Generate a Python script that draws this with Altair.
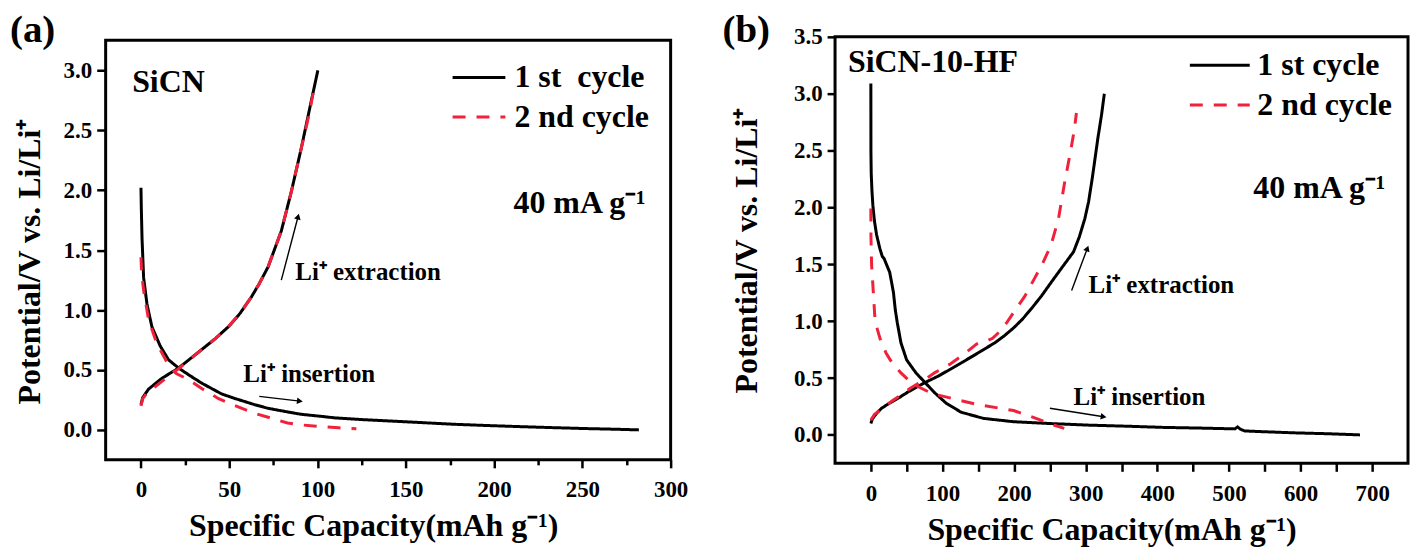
import math
import altair as alt
import pandas as pd

FONT = "Liberation Serif"
RED = "#F2213B"

# ---------------- panel (a): SiCN ----------------
a_labels = ["1 st\u00a0 cycle", "2 nd cycle"]
a1_dis_x = [0, 0.2, 0.6, 1.5, 3.4, 6.2, 10.9, 15.6, 21.3, 28, 34.4, 45.7, 53.2, 64.5, 72, 83.3, 90.8,
            102, 110, 125, 140, 160, 177, 195, 215, 235, 252, 270, 282]
a1_dis_y = [2.02, 1.85, 1.6, 1.27, 1.05, 0.86, 0.70, 0.585, 0.516, 0.45, 0.39, 0.30, 0.262, 0.21, 0.18,
            0.149, 0.13, 0.113, 0.10, 0.086, 0.075, 0.06, 0.047, 0.037, 0.027, 0.018, 0.011, 0.005, 0.0]
a1_chg_x = [0, 1, 4.3, 11.8, 21.3, 34.4, 42, 49.5, 56, 62.6, 67, 72, 79.5, 85.2, 90.8, 96.4, 100.2]
a1_chg_y = [0.21, 0.27, 0.34, 0.43, 0.516, 0.67, 0.76, 0.86, 0.97, 1.11, 1.22, 1.36, 1.66, 1.99, 2.35, 2.74, 3.0]
a2_dis_x = [0, 0.4, 1.5, 4.3, 9, 15.6, 20, 26.9, 35, 44, 52, 63, 72, 83, 92, 102, 112, 122]
a2_dis_y = [1.44, 1.3, 1.165, 0.92, 0.72, 0.54, 0.47, 0.42, 0.34, 0.26, 0.21, 0.145, 0.105, 0.058, 0.04,
            0.027, 0.017, 0.01]
a2_chg_x = [0, 1, 4, 8, 17.5, 21.3, 34.4, 42, 49.5, 56, 62.6, 67, 72, 79.5, 85.2, 90.8, 95.5, 97.6]
a2_chg_y = [0.2, 0.26, 0.32, 0.36, 0.47, 0.51, 0.67, 0.76, 0.86, 0.97, 1.11, 1.22, 1.36, 1.66, 1.99, 2.35,
            2.65, 2.82]
a_big_text = ["SiCN", "40 mA g\u207b\u00b9"]
a_big_x = [-5, 211]
a_big_y = [2.9, 1.89]
a_small_text = ["Li\u207a extraction", "Li\u207a insertion"]
a_small_x = [87.4, 58]
a_small_y = [1.32, 0.47]
a_arrow_x = [79.5, 67]
a_arrow_y = [1.25, 0.28]
a_arrow_x2 = [89, 90]
a_arrow_y2 = [1.78, 0.24]
a_leg_x = [176.5, 176.5]
a_leg_x2 = [206.4, 206.4]
a_leg_y = [2.94, 2.61]
a_leg_tx = [211.5, 211.5]
a_xticks = [0, 25, 50, 75, 100, 125, 150, 175, 200, 225, 250, 275, 300]
a_yticks = [0, 0.25, 0.5, 0.75, 1.0, 1.25, 1.5, 1.75, 2.0, 2.25, 2.5, 2.75, 3.0]

# ---------------- panel (b): SiCN-10-HF ----------------
b_labels = ["1 st cycle", "2 nd cycle"]
b1_dis_x = [0, 0.1, 0.5, 1.5, 2.8, 5, 8, 12.5, 15.9, 18.5, 23.7, 26.3, 29, 31.6, 34.1, 36.8, 42, 49.9, 63,
            78.7, 89.2, 104.9, 125.8, 157.4, 199.2, 250, 304, 360, 408.7, 460, 508, 512, 516, 522, 540, 592,
            640, 683]
b1_dis_y = [3.09, 2.49, 2.3, 2.15, 2.02, 1.88, 1.76, 1.64, 1.57, 1.55, 1.47, 1.43, 1.34, 1.25, 1.10, 0.99,
            0.81, 0.66, 0.545, 0.44, 0.37, 0.28, 0.20, 0.145, 0.116, 0.10, 0.086, 0.076, 0.066, 0.06, 0.053,
            0.07, 0.05, 0.035, 0.03, 0.018, 0.01, 0.0]
b1_chg_x = [0, 2, 8, 15, 26.3, 40, 52.5, 65, 78.7, 95, 110.2, 128, 146.9, 160, 173.2, 186, 199.2, 212,
            225.4, 238, 251.6, 262, 272.5, 283, 291, 298.7, 304, 309.2, 313, 317, 322, 326]
b1_chg_y = [0.10, 0.14, 0.19, 0.235, 0.28, 0.33, 0.38, 0.425, 0.47, 0.52, 0.575, 0.64, 0.71, 0.76, 0.81,
            0.87, 0.94, 1.02, 1.12, 1.22, 1.34, 1.43, 1.52, 1.61, 1.74, 1.90, 2.05, 2.26, 2.43, 2.61, 2.81, 3.0]
b2_dis_x = [0, 0.1, 1, 2.8, 5.4, 9, 13.2, 21.2, 30, 42, 53, 65.6, 80, 94.5, 120, 146.8, 175, 199.2, 215,
            230.6, 251.6, 270]
b2_dis_y = [1.99, 1.76, 1.5, 1.32, 1.05, 0.93, 0.84, 0.72, 0.63, 0.545, 0.48, 0.426, 0.38, 0.35, 0.31, 0.27,
            0.24, 0.214, 0.18, 0.145, 0.095, 0.057]
b2_chg_x = [0, 5, 15.9, 30, 42, 55, 73.4, 90, 110, 130, 148, 160, 170, 180, 190, 201.8, 215, 228, 240,
            251.6, 257, 262, 270, 279, 284, 287]
b2_chg_y = [0.13, 0.18, 0.235, 0.3, 0.35, 0.41, 0.48, 0.55, 0.62, 0.71, 0.80, 0.82, 0.85, 0.91, 0.99, 1.10,
            1.22, 1.37, 1.51, 1.67, 1.79, 1.90, 2.2, 2.5, 2.68, 2.83]
b_big_text = ["SiCN-10-HF", "40 mA g\u207b\u00b9"]
b_big_x = [-32, 534]
b_big_y = [3.28, 2.17]
b_small_text = ["Li\u207a extraction", "Li\u207a insertion"]
b_small_x = [304, 283]
b_small_y = [1.315, 0.337]
b_arrow_x = [280.3, 250]
b_arrow_y = [1.27, 0.234]
b_arrow_x2 = [302.3, 325]
b_arrow_y2 = [1.64, 0.16]
b_leg_x = [445.4, 445.4]
b_leg_x2 = [529, 529]
b_leg_y = [3.25, 2.90]
b_leg_tx = [539.6, 539.6]
b_xticks = [0, 50, 100, 150, 200, 250, 300, 350, 400, 450, 500, 550, 600, 650, 700]
b_yticks = [0, 0.5, 1.0, 1.5, 2.0, 2.5, 3.0, 3.5]


def curves(labels, parts):
    rows = []
    for ci, branch, xs, ys in parts:
        for i, (x, y) in enumerate(zip(xs, ys)):
            rows.append({"cycle": labels[ci], "branch": f"{ci}-{branch}", "i": i, "x": x, "y": y})
    return pd.DataFrame(rows)


def panel(df, labels, xdom, ydom, W, H, xvals, xmaj, xminor_len, yvals, yminor_len, big, small,
          arrows, legend, title, title_offset, title_dx, ytitle_pad, xtitle_shift, ytitle_shift):
    xs = alt.Scale(domain=xdom, nice=False, zero=False)
    ys = alt.Scale(domain=ydom, nice=False, zero=False)
    xtest = f"datum.value % {xmaj} === 0"
    ytest = "abs(datum.value*2 - round(datum.value*2)) < 0.001"
    xtick = {"condition": {"test": xtest, "value": 8}, "value": xminor_len} if xminor_len else 8
    ytick = {"condition": {"test": ytest, "value": 9}, "value": yminor_len} if yminor_len else 8
    xaxis = alt.Axis(values=xvals, labelExpr=f"{xtest} ? datum.label : ''",
                     tickSize=xtick, labelFlush=False, labelOverlap=False, labelPadding=11,
                     titlePadding=9, titleX=W / 2 + xtitle_shift)
    yaxis = alt.Axis(values=yvals, format=".1f", labelExpr=f"{ytest} ? datum.label : ''",
                     tickSize=ytick, labelFlush=False, labelOverlap=False, labelPadding=5,
                     titlePadding=ytitle_pad, titleY=H / 2 + ytitle_shift)
    cscale = alt.Scale(domain=labels, range=["black", RED])
    dscale = alt.Scale(domain=labels, range=[[1, 0], [13, 11]])
    lines = alt.Chart(df).mark_line(strokeWidth=3, clip=True).encode(
        x=alt.X("x:Q", scale=xs, axis=xaxis, title="Specific Capacity(mAh g\u207b\u00b9)"),
        y=alt.Y("y:Q", scale=ys, axis=yaxis, title="Potential/V vs. Li/Li\u207a"),
        color=alt.Color("cycle:N", scale=cscale, legend=None),
        strokeDash=alt.StrokeDash("cycle:N", scale=dscale, legend=None),
        detail="branch:N",
        order="i:Q",
    )
    lx, lx2, ly, ltx = legend
    leg_df = pd.DataFrame({"cycle": labels, "x": lx, "x2": lx2, "y": ly, "tx": ltx})
    leg_lines = alt.Chart(leg_df).mark_rule(strokeWidth=3).encode(
        x=alt.X("x:Q", scale=xs), x2="x2:Q", y=alt.Y("y:Q", scale=ys),
        color=alt.Color("cycle:N", scale=cscale, legend=None),
        strokeDash=alt.StrokeDash("cycle:N", scale=dscale, legend=None),
    )
    leg_text = alt.Chart(leg_df).mark_text(align="left", baseline="middle", font=FONT, fontSize=32,
                                           fontWeight="bold", color="black").encode(
        x=alt.X("tx:Q", scale=xs), y=alt.Y("y:Q", scale=ys), text="cycle:N")
    bt, bx, by = big
    big_df = pd.DataFrame({"t": bt, "x": bx, "y": by})
    big_layer = alt.Chart(big_df).mark_text(align="left", baseline="middle", font=FONT, fontSize=32,
                                            fontWeight="bold", color="black").encode(
        x=alt.X("x:Q", scale=xs), y=alt.Y("y:Q", scale=ys), text="t:N")
    st, sx, sy = small
    small_df = pd.DataFrame({"t": st, "x": sx, "y": sy})
    small_layer = alt.Chart(small_df).mark_text(align="left", baseline="middle", font=FONT, fontSize=25,
                                                fontWeight="bold", color="black").encode(
        x=alt.X("x:Q", scale=xs), y=alt.Y("y:Q", scale=ys), text="t:N")
    ax, ay, ax2, ay2 = arrows
    ppx = W / (xdom[1] - xdom[0])
    ppy = H / (ydom[1] - ydom[0])
    ang = [math.degrees(math.atan2(-(y2 - y1) * ppy, (x2 - x1) * ppx)) % 360
           for x1, y1, x2, y2 in zip(ax, ay, ax2, ay2)]
    arr_df = pd.DataFrame({"x": ax, "y": ay, "x2": ax2, "y2": ay2, "ang": ang})
    shafts = alt.Chart(arr_df).mark_rule(color="black", strokeWidth=1.4).encode(
        x=alt.X("x:Q", scale=xs), y=alt.Y("y:Q", scale=ys), x2="x2:Q", y2="y2:Q")
    heads = alt.Chart(arr_df).mark_point(shape="triangle-right", filled=True, size=45, color="black",
                                         opacity=1, strokeWidth=0).encode(
        x=alt.X("x2:Q", scale=xs), y=alt.Y("y2:Q", scale=ys), angle=alt.Angle("ang:Q", scale=None))
    return alt.layer(lines, leg_lines, leg_text, big_layer, small_layer, shafts, heads).properties(
        width=W, height=H,
        title=alt.TitleParams(title, anchor="start", frame="group", font=FONT, fontSize=39,
                              fontWeight="bold", color="black", offset=title_offset, dx=title_dx),
    )


df_a = curves(a_labels, [(0, "d", a1_dis_x, a1_dis_y), (0, "c", a1_chg_x, a1_chg_y),
                         (1, "d", a2_dis_x, a2_dis_y), (1, "c", a2_chg_x, a2_chg_y)])
df_b = curves(b_labels, [(0, "d", b1_dis_x, b1_dis_y), (0, "c", b1_chg_x, b1_chg_y),
                         (1, "d", b2_dis_x, b2_dis_y), (1, "c", b2_chg_x, b2_chg_y)])

pa = panel(df_a, a_labels, [-20, 300], [-0.25, 3.25], 567, 421,
           a_xticks, 50, 5, a_yticks, 5,
           (a_big_text, a_big_x, a_big_y), (a_small_text, a_small_x, a_small_y),
           (a_arrow_x, a_arrow_y, a_arrow_x2, a_arrow_y2), (a_leg_x, a_leg_x2, a_leg_y, a_leg_tx),
           "(a)", -10, -96, 17, -15, 11)
pb = panel(df_b, b_labels, [-50, 750], [-0.25, 3.5], 575, 428,
           b_xticks, 100, None, b_yticks, None,
           (b_big_text, b_big_x, b_big_y), (b_small_text, b_small_x, b_small_y),
           (b_arrow_x, b_arrow_y, b_arrow_x2, b_arrow_y2), (b_leg_x, b_leg_x2, b_leg_y, b_leg_tx),
           "(b)", -24, -113, 30, -10, 0)

chart = alt.hconcat(pa, pb, spacing=165, bounds="flush", center=True).resolve_scale(
    color="independent", strokeDash="independent"
).properties(
    padding=0, background="white"
).configure_axis(
    labelFont=FONT, labelFontWeight="bold", labelFontSize=23, labelColor="black",
    titleFont=FONT, titleFontWeight="bold", titleFontSize=32, titleColor="black",
    domain=False, grid=False, tickColor="black", tickWidth=2.5,
).configure_view(stroke="black", strokeWidth=3)

chart.save("out.html", embed_options={"renderer": "svg", "actions": False})
